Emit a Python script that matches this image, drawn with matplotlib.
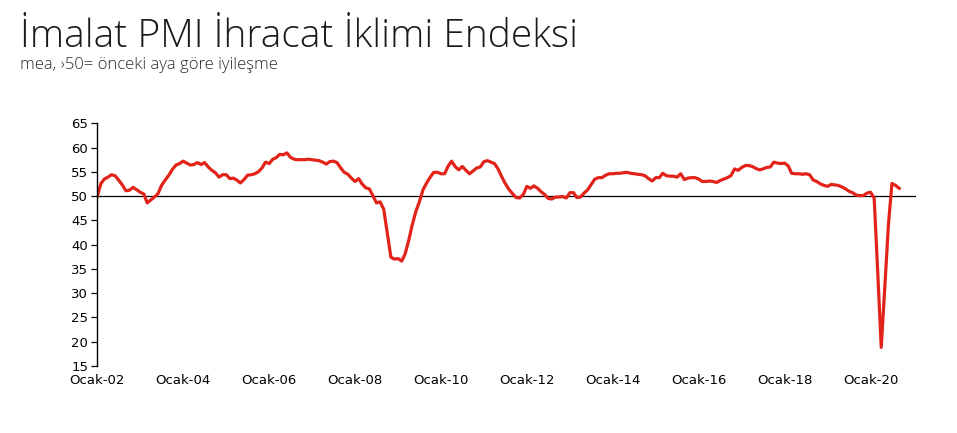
import matplotlib
matplotlib.use("Agg")
import matplotlib.pyplot as plt
import matplotlib.dates as mdates
import numpy as np
import pandas as pd

# aylik ihracat iklimi endeksi, Ocak 2002 - Eylul 2020
y2002 = [50.0, 52.6, 53.5, 53.9, 54.4, 54.2, 53.3, 52.3, 51.1, 51.2, 51.8, 51.3]
y2003 = [50.8, 50.4, 48.6, 49.2, 49.8, 50.5, 52.2, 53.3, 54.3, 55.5, 56.4, 56.7]
y2004 = [57.2, 56.8, 56.4, 56.5, 56.9, 56.5, 56.9, 56.0, 55.3, 54.8, 53.9, 54.4]
y2005 = [54.4, 53.6, 53.7, 53.3, 52.7, 53.4, 54.3, 54.4, 54.6, 55.0, 55.8, 57.0]
y2006 = [56.7, 57.6, 57.9, 58.6, 58.5, 58.9, 58.0, 57.6, 57.5, 57.5, 57.5, 57.6]
y2007 = [57.5, 57.4, 57.3, 57.0, 56.6, 57.1, 57.2, 56.9, 55.8, 54.9, 54.5, 53.7]
y2008 = [53.0, 53.6, 52.5, 51.7, 51.5, 50.1, 48.6, 48.8, 47.3, 42.5, 37.4, 37.0]
y2009 = [37.1, 36.6, 38.0, 40.8, 44.0, 46.8, 48.8, 51.3, 52.7, 53.9, 54.9, 54.9]
y2010 = [54.6, 54.6, 56.1, 57.2, 56.1, 55.4, 56.1, 55.3, 54.6, 55.2, 55.8, 56.0]
y2011 = [57.1, 57.3, 57.0, 56.7, 55.6, 54.0, 52.6, 51.4, 50.5, 49.7, 49.6, 50.3]
y2012 = [52.0, 51.6, 52.1, 51.6, 50.9, 50.3, 49.5, 49.4, 49.8, 49.8, 49.9, 49.6]
y2013 = [50.7, 50.7, 49.7, 49.8, 50.6, 51.3, 52.4, 53.5, 53.8, 53.8, 54.3, 54.6]
y2014 = [54.6, 54.7, 54.7, 54.8, 54.9, 54.7, 54.6, 54.5, 54.4, 54.2, 53.6, 53.1]
y2015 = [53.8, 53.8, 54.7, 54.2, 54.1, 54.1, 53.9, 54.6, 53.4, 53.7, 53.8, 53.8]
y2016 = [53.5, 53.0, 53.0, 53.1, 53.0, 52.8, 53.2, 53.5, 53.8, 54.2, 55.6, 55.3]
y2017 = [55.9, 56.3, 56.3, 56.1, 55.7, 55.4, 55.6, 55.9, 56.0, 57.0, 56.8, 56.7]
y2018 = [56.8, 56.2, 54.7, 54.6, 54.6, 54.5, 54.6, 54.4, 53.3, 53.0, 52.5, 52.2]
y2019 = [52.0, 52.4, 52.3, 52.2, 51.9, 51.5, 51.0, 50.7, 50.2, 50.1, 50.1, 50.6]
y2020 = [50.8, 49.6, 35.0, 18.8, 31.0, 44.0, 52.6, 52.2, 51.6]

values = (y2002 + y2003 + y2004 + y2005 + y2006 + y2007 + y2008 + y2009 + y2010
          + y2011 + y2012 + y2013 + y2014 + y2015 + y2016 + y2017 + y2018
          + y2019 + y2020)
dates = pd.date_range("2002-01-01", periods=len(values), freq="MS")

yticks = [15, 20, 25, 30, 35, 40, 45, 50, 55, 60, 65]

fig = plt.figure(figsize=(9.57, 4.33), dpi=100)
ax = fig.add_axes([0.1017, 0.1552, 0.855, 0.560])

ax.axhline(50, color="black", lw=0.9, zorder=1)
ax.plot(dates, values, color="#e2231a", lw=2.3, solid_joinstyle="round", zorder=2)

ax.set_ylim(15, 65)
ax.set_yticks(yticks)
ax.set_xlim(pd.Timestamp("2002-01-01"), pd.Timestamp("2021-01-18"))
ax.xaxis.set_major_locator(mdates.YearLocator(2, month=1, day=1))
ax.xaxis.set_major_formatter(plt.FuncFormatter(lambda v, p: "Ocak-" + mdates.num2date(v).strftime("%y")))

for s in ["top", "right", "bottom"]:
    ax.spines[s].set_visible(False)
ax.spines["left"].set_linewidth(1.0)
for lbl in ax.get_xticklabels() + ax.get_yticklabels():
    lbl.set_family("DejaVu Sans")
ax.tick_params(axis="y", direction="out", length=4, width=0.9, pad=2.5,
               labelsize=9.5, labelcolor="black")
ax.tick_params(axis="x", length=0, pad=6, labelsize=9.5, labelcolor="black")

fig.text(0.0209, 0.8915, "İmalat PMI İhracat İklimi Endeksi", fontsize=28,
         family="Open Sans", fontweight="light", color="#1a1a1a", va="baseline")
fig.text(0.0209, 0.8406, "mea, ›50= önceki aya göre iyileşme", fontsize=12,
         family="Open Sans", fontweight="light", color="#2a2a2a", va="baseline")

fig.savefig("out.png", dpi=100)
